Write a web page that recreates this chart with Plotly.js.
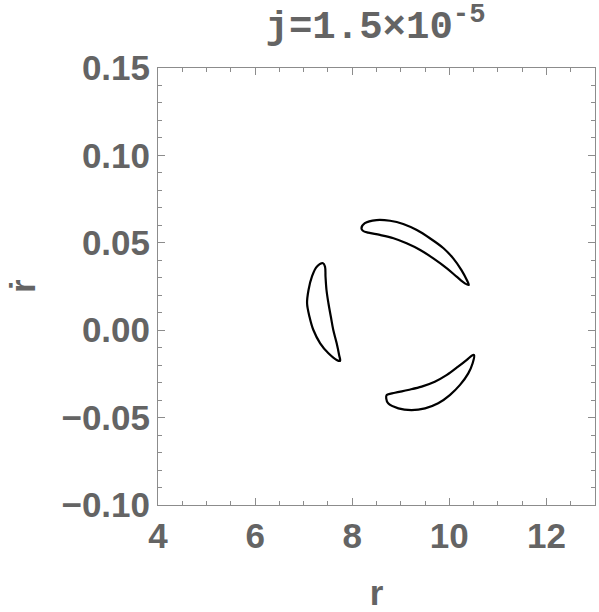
<!DOCTYPE html>
<html lang="en">
<head>
  <meta charset="UTF-8">
  <title>j=1.5×10^-5</title>
  <script src="https://cdn.plot.ly/plotly-3.0.1.min.js"></script>
  <style>
    body { margin: 0; background: #fff; }
    #plot { width: 599px; height: 612px; }
  </style>
</head>
<body>
  <div id="plot"></div>
  <script>
    // crescent islands (r, rdot)
    const upperR = [8.19, 8.26, 8.50, 8.78, 9.05, 9.33, 9.60, 9.88, 10.08, 10.25, 10.36, 10.40,
                    10.32, 10.15, 9.95, 9.67, 9.40, 9.12, 8.85, 8.57, 8.33, 8.22, 8.19];
    const upperV = [0.0583, 0.0612, 0.0630, 0.0626, 0.0608, 0.0573, 0.0526, 0.0469, 0.0411, 0.0344, 0.0287, 0.0259,
                    0.0268, 0.0306, 0.0354, 0.0411, 0.0459, 0.0497, 0.0526, 0.0545, 0.0558, 0.0569, 0.0583];

    const leftR = [7.40, 7.27, 7.17, 7.10, 7.07, 7.12, 7.20, 7.34, 7.51, 7.68, 7.75,
                   7.73, 7.68, 7.61, 7.56, 7.51, 7.47, 7.45, 7.44, 7.40];
    const leftV = [0.0383, 0.0363, 0.0306, 0.0230, 0.0154, 0.0077, 0.0001, -0.0075, -0.0132, -0.0170, -0.0176,
                   -0.0142, -0.0075, 0.0001, 0.0077, 0.0154, 0.0230, 0.0306, 0.0363, 0.0383];

    const lowerR = [10.51, 10.48, 10.39, 10.22, 10.01, 9.77, 9.50, 9.22, 8.95, 8.74, 8.70, 8.71,
                    8.88, 9.15, 9.43, 9.70, 9.95, 10.18, 10.36, 10.46, 10.51];
    const lowerV = [-0.0142, -0.0189, -0.0247, -0.0313, -0.0371, -0.0418, -0.0447, -0.0457, -0.0447, -0.0418, -0.0390, -0.0371,
                    -0.0358, -0.0342, -0.0323, -0.0295, -0.0256, -0.0209, -0.0170, -0.0146, -0.0142];

    // axis ranges and tick steps (major / minor)
    const xRange = [4, 13], xStep = 2, xMinor = 0.5;
    const yRange = [-0.10, 0.15], yStep = 0.05, yMinor = 0.01;

    const grey = '#646464';
    const frame = '#8c8c8c';

    function island(xs, ys) {
      return {
        x: xs, y: ys,
        type: 'scatter', mode: 'lines',
        line: { color: '#000', width: 2.2, shape: 'spline', smoothing: 1 },
        hoverinfo: 'skip'
      };
    }

    const data = [island(upperR, upperV), island(leftR, leftV), island(lowerR, lowerV)];

    const tickFont = { family: 'Liberation Sans, Arial, sans-serif', size: 35, color: grey, weight: 'bold' };

    const layout = {
      width: 599, height: 612,
      margin: { l: 158, r: 4, t: 68, b: 107 },
      paper_bgcolor: '#fff', plot_bgcolor: '#fff',
      showlegend: false,
      title: {
        text: 'j=1.5×10<sup>-5</sup>',
        font: { family: 'Liberation Mono, Courier New, monospace', size: 39, color: grey, weight: 'bold' },
        x: 0.627, xanchor: 'center', y: 0.96, yanchor: 'middle'
      },
      xaxis: {
        range: xRange, tickmode: 'linear', tick0: xRange[0], dtick: xStep,
        ticks: 'inside', ticklen: 7, tickcolor: frame, tickwidth: 1,
        minor: { tickmode: 'linear', tick0: xRange[0], dtick: xMinor, ticks: 'inside', ticklen: 4, tickcolor: frame, tickwidth: 1 },
        showline: true, linecolor: frame, linewidth: 1, mirror: 'allticks',
        showgrid: false, zeroline: false,
        tickfont: tickFont,
        title: { text: 'r', font: tickFont }
      },
      yaxis: {
        range: yRange, tickmode: 'linear', tick0: 0, dtick: yStep, tickformat: '.2f',
        ticks: 'inside', ticklen: 7, tickcolor: frame, tickwidth: 1,
        minor: { tickmode: 'linear', tick0: 0, dtick: yMinor, ticks: 'inside', ticklen: 4, tickcolor: frame, tickwidth: 1 },
        showline: true, linecolor: frame, linewidth: 1, mirror: 'allticks',
        showgrid: false, zeroline: false,
        tickfont: tickFont
      },
      // y-axis label drawn as a rotated annotation so it can sit further left
      annotations: [{
        text: 'ṙ', textangle: -90, font: tickFont, showarrow: false, borderpad: 0,
        xref: 'paper', yref: 'paper', x: -0.31, y: 0.5, xanchor: 'center', yanchor: 'middle'
      }]
    };

    Plotly.newPlot('plot', data, layout, { displayModeBar: false, staticPlot: true });
  </script>
</body>
</html>
